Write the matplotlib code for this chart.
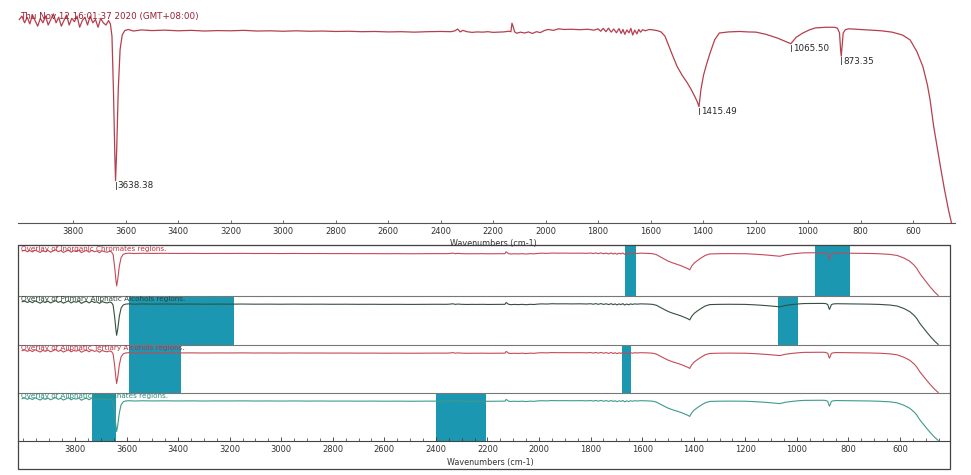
import matplotlib
matplotlib.use("Agg")
import matplotlib.pyplot as plt
from matplotlib.patches import Rectangle
from matplotlib.ticker import MultipleLocator

# ---------------- data ----------------
wavenumber = [4005, 3995, 3985, 3975, 3965, 3955, 3945, 3935, 3925, 3915, 3905, 3895,
              3885, 3875, 3865, 3855, 3845, 3835, 3825, 3815, 3805, 3795, 3785, 3775,
              3765, 3755, 3745, 3735, 3725, 3715, 3705, 3695, 3685, 3675, 3665, 3658,
              3652, 3646, 3641, 3638.38, 3634, 3628, 3621, 3613, 3603, 3590, 3570, 3540,
              3500, 3450, 3400, 3350, 3300, 3250, 3200, 3150, 3100, 3050, 3000, 2950,
              2900, 2850, 2800, 2750, 2700, 2650, 2600, 2550, 2500, 2450, 2400, 2360,
              2345, 2335, 2325, 2315, 2300, 2280, 2260, 2240, 2220, 2200, 2180, 2160,
              2140, 2132, 2128, 2124, 2118, 2110, 2095, 2080, 2065, 2050, 2035, 2020,
              2005, 1990, 1970, 1950, 1930, 1900, 1870, 1840, 1815, 1800, 1790, 1780,
              1770, 1760, 1750, 1740, 1730, 1720, 1712, 1705, 1698, 1690, 1682, 1675,
              1668, 1660, 1652, 1645, 1638, 1630, 1620, 1605, 1590, 1575, 1560, 1545,
              1535, 1515, 1498, 1480, 1460, 1445, 1432, 1422, 1415.49, 1408, 1398, 1385,
              1373, 1355, 1338, 1303, 1260, 1230, 1198, 1160, 1118, 1090, 1065.5, 1045,
              1020, 995, 972, 930, 900, 888, 880, 876, 873.35, 870, 866, 858,
              845, 800, 760, 720, 680, 640, 611, 585, 562, 545, 535, 522,
              508, 495, 480, 465, 452]
transmittance = [93.5, 95.0, 92.0, 94.5, 91.5, 95.5, 93.0, 90.5, 94.0, 92.0, 95.0, 91.0,
                 93.5, 96.0, 92.0, 94.5, 90.5, 93.0, 95.5, 91.0, 94.0, 92.5, 95.0, 90.0,
                 93.0, 94.5, 91.0, 95.0, 92.0, 93.5, 90.0, 94.0, 92.0, 91.0, 93.0, 91.5,
                 86.0, 60.0, 32.0, 21.0, 35.0, 62.0, 80.0, 86.5, 88.5, 89.0, 88.3, 88.8,
                 88.5, 88.7, 88.4, 88.6, 88.3, 88.5, 88.4, 88.6, 88.3, 88.4, 88.2, 88.4,
                 88.2, 88.3, 88.1, 88.2, 88.0, 88.1, 87.9, 88.0, 87.8, 88.0, 88.1, 88.0,
                 88.4, 89.2, 87.9, 88.6, 88.0, 87.7, 87.9, 87.8, 88.0, 87.7, 87.8, 87.9,
                 88.2, 88.0, 91.8, 90.5, 88.0, 87.3, 87.8, 87.4, 87.9, 87.2, 88.0, 87.6,
                 88.5, 89.0, 88.6, 89.3, 89.0, 89.1, 88.9, 89.1, 88.7, 89.3, 88.2, 89.5,
                 88.0, 89.6, 87.8, 89.2, 87.5, 89.4, 87.2, 89.0, 86.8, 88.8, 87.5, 89.5,
                 86.5, 88.7, 87.0, 89.0, 87.8, 88.9, 88.4, 89.0, 88.8, 88.5, 87.9, 86.0,
                 83.0, 77.0, 72.2, 68.5, 65.0, 62.0, 59.0, 56.5, 54.3, 62.0, 68.5, 74.0,
                 78.5, 84.5, 87.4, 87.9, 88.1, 87.9, 87.8, 86.8, 85.2, 83.8, 82.6, 85.5,
                 87.4, 88.8, 89.7, 90.0, 90.0, 89.6, 87.5, 80.0, 77.0, 82.0, 87.4, 88.9,
                 89.3, 89.0, 88.7, 88.4, 87.8, 86.5, 84.3, 79.0, 72.2, 64.0, 57.4, 46.0,
                 36.0, 27.0, 17.0, 8.0, 1.3]

peak_positions = [3638.38, 1415.49, 1065.50, 873.35]
peak_values = [21.0, 54.3, 82.6, 77.0]
peak_labels = ["3638.38", "1415.49", "1065.50", "873.35"]

tick_values = list(range(3800, 599, -200))
tick_labels = [str(v) for v in tick_values]

overlay_names = ["Overlay of Inorganic Chromates regions.",
                 "Overlay of Primary Aliphatic Alcohols regions.",
                 "Overlay of Aliphatic Tertiary Alcohols regions.",
                 "Overlay of Aliphatic Isocyanates regions."]
overlay_regions = [[(1665, 1625), (930, 795)],
                   [(3590, 3185), (1075, 995)],
                   [(3590, 3390), (1680, 1645)],
                   [(3735, 3640), (2400, 2205)]]

date_text = "Thu Nov 12 16:01:37 2020 (GMT+08:00)"
x_label = "Wavenumbers (cm-1)"

# ---------------- styles ----------------
line_colors = ["#c44a57", "#34513f", "#c44a57", "#3e9a8a"]
label_colors = ["#c0303f", "#2c4536", "#c0303f", "#2e8a7b"]
band_color = "#1b97b2"
top_color = "#b53f4d"

W, H = 971, 475
def fx(px):
    return px / W
def fy(py):
    return 1 - py / H

fig = plt.figure(figsize=(W / 100, H / 100), dpi=100)
fig.patch.set_facecolor("white")

# ---------------- top spectrum ----------------
ax = fig.add_axes([fx(18), fy(223), fx(955) - fx(18), fy(5) - fy(223)])
ax.plot(wavenumber, transmittance, color=top_color, lw=0.9)
ax.set_xlim(4010, 440)
ax.set_ylim(2, 100)
for s in ["top", "left", "right"]:
    ax.spines[s].set_visible(False)
ax.spines["bottom"].set_color("#555555")
ax.spines["bottom"].set_linewidth(0.8)
ax.set_yticks([])
ax.set_xticks(tick_values)
ax.set_xticklabels(tick_labels)
ax.tick_params(axis="x", direction="in", length=2.5, width=0.5, labelsize=6,
               pad=3, colors="#333333")
for pw, pv, pl in zip(peak_positions, peak_values, peak_labels):
    ax.plot([pw, pw], [pv - 0.5, pv - 3.5], color="#333333", lw=0.6)
    ax.annotate(pl, (pw, pv), xytext=(1.5, -0.5), textcoords="offset points",
                ha="left", va="top", fontsize=6.3, color="#262626")
fig.text(fx(20), fy(17), date_text, fontsize=6.3, color="#9c1f31",
         ha="left", va="center")
fig.text(fx(493), fy(244), x_label, fontsize=5.8, color="#333333",
         ha="center", va="center")

# ---------------- overlay strips ----------------
strip_tops = [245, 296, 345, 393]
strip_bottoms = [296, 345, 393, 441]
x_left, x_right = 18, 950
axes_s = []
for i in range(4):
    a = fig.add_axes([fx(x_left), fy(strip_bottoms[i]), fx(x_right) - fx(x_left),
                      fy(strip_tops[i]) - fy(strip_bottoms[i])])
    a.set_xlim(4021, 406)
    a.set_ylim(0, 106)
    for (hi, lo) in overlay_regions[i]:
        a.axvspan(lo, hi, color=band_color, lw=0, zorder=1)
    a.plot(wavenumber, transmittance, color=line_colors[i], lw=0.8, zorder=2)
    a.text(0.003, 0.93, overlay_names[i], transform=a.transAxes, fontsize=5.2,
           color=label_colors[i], ha="left", va="center", zorder=3)
    a.set_yticks([])
    for s in ["left", "right", "bottom"]:
        a.spines[s].set_visible(False)
    a.spines["top"].set_color("#777777")
    a.spines["top"].set_linewidth(0.8)
    if i < 3:
        a.set_xticks([])
    axes_s.append(a)

ab = axes_s[-1]
ab.spines["bottom"].set_visible(True)
ab.spines["bottom"].set_color("#444444")
ab.spines["bottom"].set_linewidth(0.8)
ab.set_xticks(tick_values)
ab.set_xticklabels(tick_labels)
ab.xaxis.set_minor_locator(MultipleLocator(50))
ab.tick_params(axis="x", which="major", direction="in", length=3, width=0.6,
               labelsize=6, pad=3, colors="#333333")
ab.tick_params(axis="x", which="minor", direction="in", length=2, width=0.5,
               colors="#333333")
fig.text(fx(490), fy(463), x_label, fontsize=5.8, color="#333333",
         ha="center", va="center")

fig.patches.append(Rectangle((fx(x_left), fy(469)), fx(x_right) - fx(x_left),
                             fy(245) - fy(469), transform=fig.transFigure,
                             fill=False, lw=0.9, ec="#444444"))

fig.savefig("out.png", dpi=100, facecolor="white")
